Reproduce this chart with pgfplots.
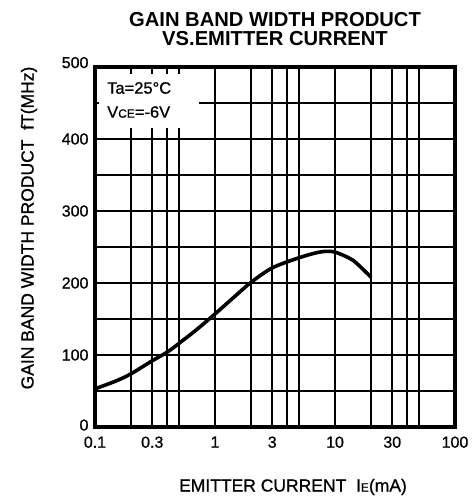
\documentclass[border=0pt]{standalone}
\usepackage{fontspec}
\setmainfont{Liberation Sans}
\newfontfamily\medium[FakeBold=0.8]{Liberation Sans}
\usepackage{pgfplots}
\pgfplotsset{compat=1.18}
\begin{document}
\begin{tikzpicture}[x=1pt,y=1pt]
\useasboundingbox (-95,-72) rectangle (381,427);
\begin{axis}[
 at={(0,0)}, anchor=south west,
 scale only axis, width=360pt, height=360pt,
 xmode=log, xmin=0.1, xmax=100, ymin=0, ymax=500,
 xtick={0.1,0.3,1,3,10,30,100},
 xticklabels={0.1,0.3,1,3,10,30,100},
 minor xtick={0.2,0.4,0.5,2,4,5,20,40,50},
 ytick={0,100,200,300,400,500},
 yticklabels={\raisebox{4pt}{0},100,200,300,400,\raisebox{9pt}{500}},
 minor ytick={50,150,250,350,450},
 grid=both,
 major grid style={black, line width=2.1pt},
 minor grid style={black, line width=2.1pt},
 axis line style={black, line width=3.2pt},
 major tick length=0pt, minor tick length=0pt,
 ticklabel style={font=\medium\fontsize{16}{16}\selectfont},
 xticklabel style={yshift=-6pt},
 yticklabel style={xshift=-3pt},
]
\fill[white] (axis cs:0.1,415) rectangle (axis cs:0.736,500);
\pgfplotsinvokeforeach{0.2,0.3,0.4,0.5}{
  \draw[line width=2.1pt] (axis cs:#1,500) -- (axis cs:#1,490);
}
\draw[line width=2.1pt] (axis cs:0.1,450) -- (axis cs:0.108,450);
\draw[line width=3.2pt] (rel axis cs:0,0) rectangle (rel axis cs:1,1);
\addplot[black, line width=3.6pt, smooth, tension=0.5] coordinates {
 (0.1,53) (0.15,64) (0.2,74) (0.3,92) (0.4,104) (0.5,116) (0.7,135)
 (1,157) (1.5,183) (2,201) (3,221) (5,235) (7,242) (8.5,244) (10,243)
 (13,235) (15,228) (20,208)
};
\end{axis}
\node[align=center, font=\fontsize{20.2}{19}\selectfont\bfseries] at (180,397.5)
 {GAIN BAND WIDTH PRODUCT\\VS.EMITTER CURRENT};
\node[rotate=90, font=\medium\fontsize{17.5}{17.5}\selectfont] at (-66,199)
 {GAIN BAND WIDTH PRODUCT\ \ fT(MHz)};
\node[font=\medium\fontsize{17.5}{17.5}\selectfont] at (198,-60)
 {EMITTER CURRENT\ \ I{\fontsize{12}{12}\selectfont E}(mA)};
\node[anchor=west, font=\medium\fontsize{16.5}{16.5}\selectfont, inner sep=0pt] at (12,339) {Ta=25°C};
\node[anchor=west, font=\medium\fontsize{16.5}{16.5}\selectfont, inner sep=0pt] at (12,315) {V{\fontsize{12}{12}\selectfont CE}=-6V};
\end{tikzpicture}
\end{document}
